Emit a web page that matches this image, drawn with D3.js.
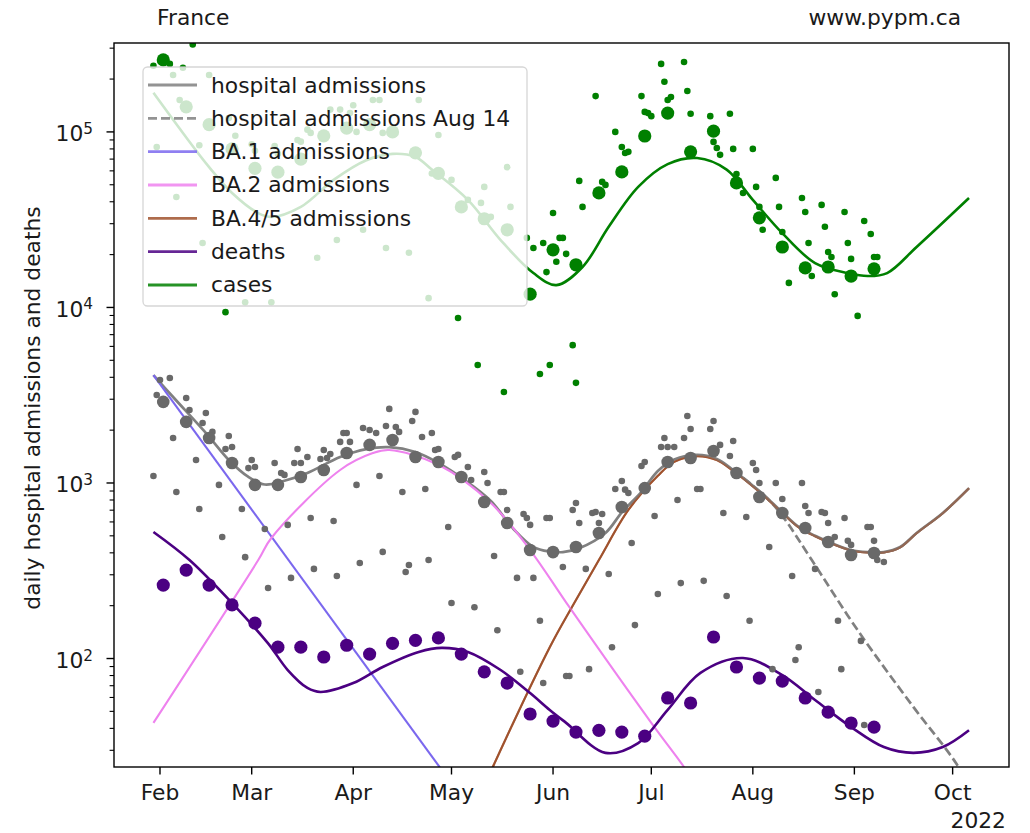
<!DOCTYPE html>
<html><head><meta charset="utf-8">
<script src="https://cdn.jsdelivr.net/npm/d3@7"></script>
<style>
body{margin:0;background:#fff;}
svg text{font-family:"DejaVu Sans",sans-serif;fill:#1a1a1a;}
</style>
</head><body>
<svg id="chart" width="1030" height="833"></svg>
<script>
// ---------------- data ----------------
const monthTicks = ["02-01","03-01","04-01","05-01","06-01","07-01","08-01","09-01","10-01"];
const monthLabels = ["Feb","Mar","Apr","May","Jun","Jul","Aug","Sep","Oct"];
const yMajorTicks = [100, 1000, 10000, 100000];
const yMajorExp = ["2","3","4","5"];

// weekly dates for the large markers
const weekDates = ["02-02","02-09","02-16","02-23","03-02","03-09","03-16","03-23","03-30","04-06","04-13","04-20","04-27","05-04","05-11","05-18","05-25","06-01","06-08","06-15","06-22","06-29","07-06","07-13","07-20","07-27","08-03","08-10","08-17","08-24","08-31","09-07"];
const hospWeekly = [2897,2228,1805,1300,975,975,1082,1186,1483,1648,1758,1406,1318,1082,779,592,415,404,432,519,730,935,1318,1388,1520,1140,832,674,554,461,389,399];
const deathsWeekly = [262,319,262,202,159,116,116,102,119,106,122,127,131,106,84,72.5,48.3,44,38.1,39,38.1,36.1,59.6,55.8,132.6,89.5,77.4,74.4,59.6,49.5,42.9,40.7];
const casesWeekly = [257000,139000,110000,80000,62000,59000,70000,95000,105000,110000,100000,76000,58000,37400,32000,27700,11900,21300,17500,44900,59200,94800,128000,77000,101000,51200,32400,22100,16800,17000,15100,16600];

// daily hospital admissions (small grey dots)
const hospDaily = [["01-30",1096],["01-31",3170],["02-01",3864],["02-04",3963],["02-05",1803],["02-06",889],["02-09",3048],["02-10",2606],["02-12",1352],["02-13",711],["02-14",2198],["02-15",2506],["02-17",1954],["02-19",975],["02-20",492],["02-21",1563],["02-22",1853],["02-23",1603],["02-26",711],["02-27",378],["02-28",1216],["03-01",1352],["03-02",1233],["03-05",547],["03-06",252],["03-08",1300],["03-10",1140],["03-11",1112],["03-12",577],["03-13",288],["03-14",1300],["03-15",1563],["03-16",1300],["03-18",1406],["03-19",632],["03-20",324],["03-22",1371],["03-23",1542],["03-24",1388],["03-25",1462],["03-26",607],["03-27",295],["03-28",1714],["03-29",1928],["03-30",1928],["03-31",1714],["04-02",975],["04-03",350],["04-04",2056],["04-06",2004],["04-08",1928],["04-09",1096],["04-10",405],["04-11",2113],["04-12",2642],["04-14",2084],["04-15",1954],["04-16",889],["04-17",311],["04-18",341],["04-19",2255],["04-20",2541],["04-22",1828],["04-23",925],["04-24",364],["04-25",1928],["04-26",1542],["04-27",1563],["04-30",561],["05-01",207],["05-02",1406],["05-03",1445],["05-06",1233],["05-07",1040],["05-08",196],["05-11",1156],["05-12",1000],["05-14",384],["05-15",145],["05-16",889],["05-17",889],["05-18",702],["05-21",288],["05-22",84],["05-23",666],["05-24",632],["05-25",577],["05-26",288],["05-28",164],["05-29",72.5],["05-30",632],["05-31",632],["06-04",332],["06-05",79.5],["06-06",79.5],["06-07",702],["06-08",769],["06-09",592],["06-11",324],["06-12",87],["06-13",675],["06-14",684],["06-15",592],["06-16",666],["06-18",303],["06-19",116],["06-20",925],["06-22",1026],["06-23",916],["06-24",877],["06-25",455],["06-26",155],["06-28",1250],["06-29",1318],["07-02",649],["07-03",233],["07-04",1603],["07-05",1803],["07-06",1603],["07-08",1603],["07-09",800],["07-10",269],["07-11",1803],["07-12",2410],["07-13",2031],["07-15",925],["07-16",925],["07-17",277],["07-19",2031],["07-20",2255],["07-22",1648],["07-23",675],["07-24",227],["07-25",1426],["07-26",1734],["07-30",640],["07-31",164],["08-01",1300],["08-02",1186],["08-03",1000],["08-06",432],["08-07",87],["08-08",1000],["08-10",811],["08-13",295],["08-14",98],["08-15",116],["08-16",1000],["08-17",740],["08-18",675],["08-20",324],["08-21",64.4],["08-22",684],["08-23",675],["08-24",592],["08-26",492],["08-27",164],["08-28",87],["08-29",632],["08-30",468],["08-31",444],["09-03",126],["09-04",41.8],["09-05",561],["09-06",561],["09-07",468],["09-08",364],["09-10",355]];

// daily cases (small green dots)
const casesDaily = [["01-30",238000],["01-31",82000],["02-04",244000],["02-05",211000],["02-06",42600],["02-07",152000],["02-08",232000],["02-11",315000],["02-13",84000],["02-14",23300],["02-16",211000],["02-21",9400],["02-22",120000],["02-24",95000],["02-27",10700],["03-01",85000],["03-02",78000],["03-07",10700],["03-08",83000],["03-09",75000],["03-15",90000],["03-16",88000],["03-18",103000],["03-19",98700],["03-21",19200],["03-25",134000],["03-27",24200],["03-28",134000],["03-31",128000],["04-01",142000],["04-02",100000],["04-04",27700],["04-07",152000],["04-09",152000],["04-10",98700],["04-11",21800],["04-18",20500],["04-21",152000],["04-24",11300],["04-25",58000],["04-27",96000],["05-01",53300],["05-03",8700],["05-06",41000],["05-09",4700],["05-10",39400],["05-11",48600],["05-13",32800],["05-17",3300],["05-18",63000],["05-19",37400],["05-24",24900],["05-26",21800],["05-28",4180],["05-29",23300],["05-30",15900],["05-31",4700],["06-01",34500],["06-02",18200],["06-03",24900],["06-04",24900],["06-05",20200],["06-07",6100],["06-08",3720],["06-09",52600],["06-10",37400],["06-14",160000],["06-16",51900],["06-17",49900],["06-20",100000],["06-22",82000],["06-23",75800],["06-24",77000],["06-28",160000],["06-29",130000],["06-30",128000],["07-01",123000],["07-04",244000],["07-05",193000],["07-06",152000],["07-07",158000],["07-11",250000],["07-12",171000],["07-13",127000],["07-19",123000],["07-20",87700],["07-21",80900],["07-22",74000],["07-25",127000],["07-26",80000],["07-27",57600],["07-29",44900],["08-01",80000],["08-02",48600],["08-03",37400],["08-04",27700],["08-08",54700],["08-09",37400],["08-10",26900],["08-12",13800],["08-16",42000],["08-17",35000],["08-18",23300],["08-19",15100],["08-22",38400],["08-23",28800],["08-24",20700],["08-25",19400],["08-26",11900],["08-29",35000],["08-30",23300],["08-31",18900],["09-02",8950],["09-04",31100],["09-06",26200],["09-07",19400],["09-08",19400]];

// model curves
const totalCurve = [["01-30",4120],["02-05",3090],["02-15",1928],["02-22",1352],["02-28",1082],["03-05",980],["03-11",1030],["03-18",1140],["03-28",1406],["04-05",1560],["04-12",1600],["04-20",1500],["04-27",1300],["05-05",1040],["05-13",790],["05-20",545],["05-26",432],["05-31",407],["06-04",404],["06-09",425],["06-17",519],["06-22",680],["06-28",890],["07-03",1170],["07-08",1360],["07-15",1445],["07-21",1370],["07-26",1186],["07-31",1000],["08-05",832],["08-10",680],["08-15",562],["08-20",500],["08-25",455],["08-31",415],["09-05",404],["09-10",404],["09-15",432],["09-20",519],["09-28",675],["10-06",935]];
const aug14Curve = [["07-26",1186],["08-05",832],["08-10",650],["08-19",364],["09-02",145],["09-19",53],["10-02",25.4],["10-10",14]];
const ba1Curve = [["01-30",4120],["05-11",10.8]];
const ba2Curve = [["01-30",43],["03-03",364],["03-07",486],["03-28",1186],["04-07",1480],["04-12",1540],["04-27",1270],["05-13",769],["05-25",415],["06-06",196],["07-01",43],["07-11",24.1],["07-21",13]];
const ba45Curve = [["05-08",14],["05-14",25],["05-31",116],["06-07",200],["06-15",364],["06-24",702],["07-03",1100],["07-08",1320],["07-15",1420],["07-21",1350],["07-26",1170],["07-31",990],["08-05",825],["08-10",675],["08-15",558],["08-20",497],["08-25",452],["08-31",413],["09-05",402],["09-10",402],["09-15",430],["09-20",517],["09-28",673],["10-06",932]];
const deathsCurve = [["01-30",526],["02-10",364],["02-23",207],["03-06",122],["03-12",86],["03-18",68],["03-22",64.5],["04-01",72.5],["04-10",89.5],["04-21",109],["04-28",115],["05-06",109],["05-16",86],["05-25",63.6],["05-31",50.9],["06-05",43],["06-17",29],["06-27",33],["07-06",51],["07-16",82.8],["07-29",100.7],["08-10",80.5],["08-20",58],["08-31",40.7],["09-10",31.3],["09-19",29],["09-28",31.3],["10-06",39]];
const casesCurve = [["01-30",167000],["02-08",98600],["02-16",63000],["02-23",44900],["03-03",34500],["03-07",32800],["03-16",37400],["03-26",53300],["04-05",69000],["04-13",75000],["04-20",72000],["04-25",61000],["05-06",41000],["05-16",24200],["05-26",15700],["06-02",13400],["06-10",17000],["06-18",28800],["06-27",48600],["07-06",65500],["07-15",71000],["07-24",61000],["08-01",41000],["08-10",26500],["08-20",17900],["08-30",15700],["09-05",15100],["09-11",15700],["09-20",22100],["10-06",42000]];

const legendLabels = ["hospital admissions","hospital admissions Aug 14","BA.1 admissions","BA.2 admissions","BA.4/5 admissions","deaths","cases"];

// ---------------- drawing ----------------
const svg = d3.select("#chart");
const M = {left:114, right:1009, top:43, bottom:767};
const parse = s => d3.utcParse("%Y-%m-%d")("2022-" + s);
const x = d3.scaleUtc()
  .domain([new Date(Date.UTC(2022,0,17,23)), new Date(Date.UTC(2022,9,18,5))])
  .range([M.left, M.right]);
const y = d3.scaleLog().domain([24.1, 321000]).range([M.bottom, M.top]);

const COL = {grey:"#808080", dots:"#696969", ba1:"#7b68ee", ba2:"#ee82ee", ba45:"#a0522d", deaths:"#4b0082", cases:"#008000"};

svg.append("rect").attr("width",1030).attr("height",833).attr("fill","#fff");
svg.append("defs").append("clipPath").attr("id","clip")
  .append("rect").attr("x",M.left).attr("y",M.top).attr("width",M.right-M.left).attr("height",M.bottom-M.top);

const plot = svg.append("g").attr("clip-path","url(#clip)");
const line = d3.line().x(d => x(parse(d[0]))).y(d => y(d[1])).curve(d3.curveCatmullRom.alpha(0.5));

function drawLine(data, color, w, extra){
  const p = plot.append("path").datum(data).attr("d", line)
    .attr("fill","none").attr("stroke",color).attr("stroke-width",w)
    .attr("stroke-linejoin","round").attr("stroke-linecap","butt");
  if (extra) extra(p);
  return p;
}
drawLine(ba45Curve, COL.ba45, 2.1);
drawLine(totalCurve, COL.grey, 2.7);
drawLine(aug14Curve, COL.grey, 2.7, p => p.attr("stroke-dasharray","9,4"));
drawLine(ba1Curve, COL.ba1, 2.1);
drawLine(ba2Curve, COL.ba2, 2.1);
drawLine(ba45Curve, COL.ba45, 2.1, p => p.attr("stroke-opacity",0.55));
drawLine(deathsCurve, COL.deaths, 2.6);
drawLine(casesCurve, COL.cases, 2.6);

function dots(data, r, color){
  plot.append("g").selectAll("circle").data(data).join("circle")
    .attr("cx", d => x(parse(d[0]))).attr("cy", d => y(d[1])).attr("r", r).attr("fill", color);
}
dots(hospDaily, 3.3, COL.dots);
dots(weekDates.map((d,i)=>[d, hospWeekly[i]]), 6.3, COL.dots);
dots(weekDates.map((d,i)=>[d, deathsWeekly[i]]), 6.6, COL.deaths);
dots(casesDaily, 3.3, COL.cases);
dots(weekDates.map((d,i)=>[d, casesWeekly[i]]), 6.6, COL.cases);

// legend
const lg = svg.append("g");
lg.append("rect").attr("x",143).attr("y",67).attr("width",384).attr("height",239).attr("rx",4.5)
  .attr("fill","#fff").attr("fill-opacity",0.8).attr("stroke","#cccccc").attr("stroke-opacity",0.8).attr("stroke-width",1.3);
const legendCols = [COL.grey, COL.grey, COL.ba1, COL.ba2, COL.ba45, COL.deaths, COL.cases];
legendLabels.forEach((t,i) => {
  const yy = 85 + i*33.33;
  const l = lg.append("line").attr("x1",148).attr("x2",197).attr("y1",yy).attr("y2",yy)
    .attr("stroke",legendCols[i]).attr("stroke-width",2.8).attr("stroke-opacity",0.85);
  if (i===1) l.attr("stroke-dasharray","9,4");
  lg.append("text").attr("x",211).attr("y",yy+7.5).attr("font-size",21.8).text(t);
});

// axes frame
const ax = svg.append("g");
ax.append("rect").attr("x",M.left).attr("y",M.top).attr("width",M.right-M.left).attr("height",M.bottom-M.top)
  .attr("fill","none").attr("stroke","#000").attr("stroke-width",1.4);

// x ticks
monthTicks.forEach((m,i) => {
  const xx = x(parse(m));
  ax.append("line").attr("x1",xx).attr("x2",xx).attr("y1",M.bottom).attr("y2",M.bottom+7.5).attr("stroke","#000").attr("stroke-width",1.4);
  ax.append("text").attr("x",xx).attr("y",800).attr("text-anchor","middle").attr("font-size",21.8).text(monthLabels[i]);
});
ax.append("text").attr("x",1006).attr("y",828).attr("text-anchor","end").attr("font-size",21.8).text("2022");

// y ticks (log)
const [y0, y1] = y.domain();
for (let k = 1; k <= 5; k++) {
  for (let m = 2; m <= 9; m++) {
    const v = m * Math.pow(10, k);
    if (v < y0 || v > y1) continue;
    ax.append("line").attr("x1",M.left-4.4).attr("x2",M.left).attr("y1",y(v)).attr("y2",y(v)).attr("stroke","#000").attr("stroke-width",1.1);
  }
}
yMajorTicks.forEach((v,i) => {
  const yy = y(v);
  ax.append("line").attr("x1",M.left-7.5).attr("x2",M.left).attr("y1",yy).attr("y2",yy).attr("stroke","#000").attr("stroke-width",1.4);
  const t = ax.append("text").attr("x",93).attr("y",yy+9.5).attr("text-anchor","end").attr("font-size",21.8).text("10");
  t.append("tspan").attr("font-size",15.3).attr("dy",-7.5).text(yMajorExp[i]);
});

// labels
svg.append("text").attr("transform","translate(40,408) rotate(-90)").attr("text-anchor","middle").attr("font-size",21.8)
  .text("daily hospital admissions and deaths");
svg.append("text").attr("x",157).attr("y",25).attr("font-size",21.8).text("France");
svg.append("text").attr("x",961).attr("y",25).attr("text-anchor","end").attr("font-size",21.8).text("www.pypm.ca");
</script>
</body></html>
